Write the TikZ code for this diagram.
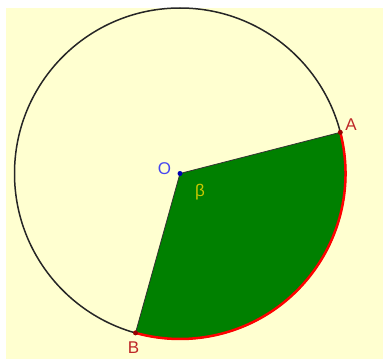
\documentclass[tikz,border=0pt]{standalone}
\usepackage{fontspec}
\setmainfont{Liberation Sans}
\definecolor{bgyellow}{RGB}{255,255,208}
\definecolor{sectgreen}{RGB}{0,128,0}
\definecolor{ptred}{RGB}{153,0,0}
\definecolor{lblred}{RGB}{190,40,40}
\definecolor{lblblue}{RGB}{70,70,240}
\definecolor{betay}{RGB}{200,200,0}
\begin{document}
\begin{tikzpicture}[x=1pt,y=-1pt,
  lbl/.style={font=\fontsize{17}{17}\selectfont, inner sep=0pt},
  ptdot/.style={circle, inner sep=0pt, minimum size=5pt, fill=ptred}]
\useasboundingbox (0,0) rectangle (383,361);
\fill[bgyellow] (6,8) rectangle (383,359);
\coordinate (O) at (180,173.5);
\def\R{165.5}
% sector
\fill[sectgreen] (O) -- ([shift={(O)}] -14.4:\R) arc[start angle=-14.4, end angle=105.6, radius=\R] -- cycle;
\draw[line width=0.8pt, black!80] (O) -- ([shift={(O)}] -14.4:\R);
\draw[line width=0.8pt, black!80] (O) -- ([shift={(O)}] 105.6:\R);
% circle
\draw[line width=1.5pt, black!85] (O) circle[radius=\R];
% red arc
\draw[line width=2.5pt, red] ([shift={(O)}] -14.4:\R) arc[start angle=-14.4, end angle=105.6, radius=\R];
% points
\node[ptdot] (A) at ([shift={(O)}] -14.4:\R) {};
\node[ptdot] (B) at ([shift={(O)}] 105.6:\R) {};
\node[circle, inner sep=0pt, minimum size=5pt, fill=blue!70!black] (Od) at (O) {};
% labels
\node[lbl, text=lblred] (Al) at (351,124.5) {A};
\node[lbl, text=lblred] (Bl) at (133.5,348) {B};
\node[lbl, text=lblblue] (Ol) at (164.5,168.5) {O};
\node[lbl, text=betay] (bl) at (200,192) {β};
\end{tikzpicture}
\end{document}
